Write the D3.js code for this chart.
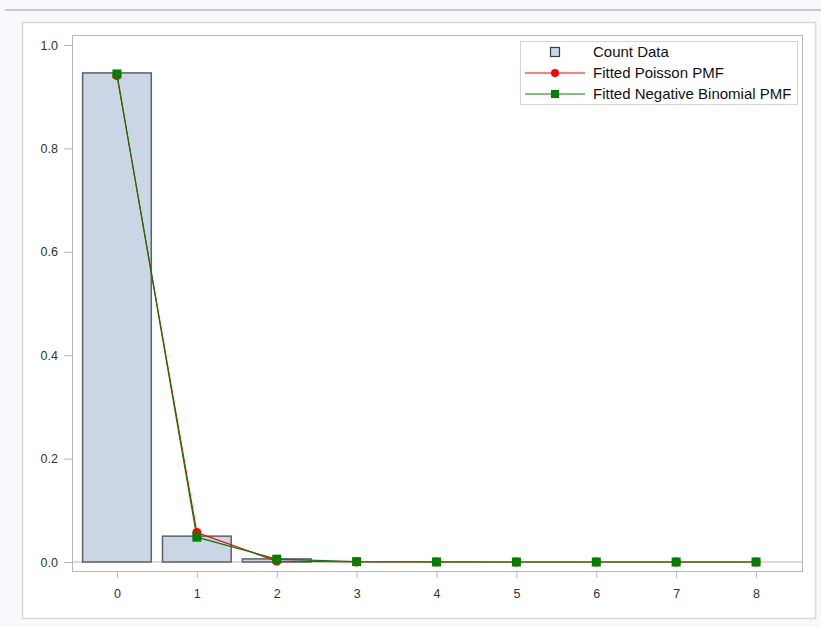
<!DOCTYPE html>
<html>
<head>
<meta charset="utf-8">
<script src="https://cdn.jsdelivr.net/npm/d3@7"></script>
<style>
  html, body { margin: 0; padding: 0; background: #f8f9fd; }
  svg { display: block; }
  text { font-family: "Liberation Sans", Arial, sans-serif; }
</style>
</head>
<body>
<svg id="chart" width="821" height="627"></svg>
<script>
// Observed counts (relative frequency) and two fitted probability mass functions
const counts = [0, 1, 2, 3, 4, 5, 6, 7, 8];
const countData = [0.946, 0.050, 0.006, 0, 0, 0, 0, 0, 0];
const poissonPMF = [0.941, 0.057, 0.0017, 0.0000, 0, 0, 0, 0, 0];
const negBinPMF = [0.944, 0.048, 0.0055, 0.0007, 0.0001, 0, 0, 0, 0];
const yTicks = [0.0, 0.2, 0.4, 0.6, 0.8, 1.0];
const legendLabels = ["Count Data", "Fitted Poisson PMF", "Fitted Negative Binomial PMF"];

const svg = d3.select("#chart");

// page chrome
svg.append("line").attr("x1", 5).attr("x2", 821).attr("y1", 10).attr("y2", 10)
  .attr("stroke", "#c7c9cd").attr("stroke-width", 2);
svg.append("rect").attr("x", 22.5).attr("y", 22.5).attr("width", 793).attr("height", 596)
  .attr("fill", "#ffffff").attr("stroke", "#d9d9d9").attr("stroke-width", 1.5);

const frame = { left: 72, top: 35, right: 803, bottom: 572 };

const x = d3.scaleLinear().domain([-0.5, 8.5]).range([77, 796]);
const y = d3.scaleLinear().domain([0, 1]).range([562, 45]);
const bw = (x(1) - x(0)) * 0.86;

// plot frame
svg.append("rect")
  .attr("x", frame.left + 0.5).attr("y", frame.top + 0.5)
  .attr("width", frame.right - frame.left - 1).attr("height", frame.bottom - frame.top - 1)
  .attr("fill", "#ffffff").attr("stroke", "#b4b8bc").attr("stroke-width", 1);

// baseline reference
svg.append("line").attr("x1", frame.left + 1).attr("x2", frame.right - 1)
  .attr("y1", y(0)).attr("y2", y(0)).attr("stroke", "#dcdcdc").attr("stroke-width", 2);

// y axis
const yAxis = d3.axisLeft(y).tickValues(yTicks).tickFormat(d3.format(".1f")).tickSize(8).tickPadding(6);
const gy = svg.append("g").attr("transform", `translate(${frame.left},0)`).call(yAxis);
gy.select(".domain").remove();
gy.selectAll(".tick line").attr("stroke", "#b4b8bc");
gy.selectAll(".tick text").attr("fill", "#333").style("font-size", "12.5px")
  .style("font-family", "'Liberation Sans', Arial, sans-serif");

// x axis
const xAxis = d3.axisBottom(x).tickValues(counts).tickFormat(d3.format("d")).tickSize(6).tickPadding(11);
const gx = svg.append("g").attr("transform", `translate(0,${frame.bottom})`).call(xAxis);
gx.select(".domain").remove();
gx.selectAll(".tick line").attr("stroke", "#b4b8bc");
gx.selectAll(".tick text").attr("fill", "#333").style("font-size", "12.5px")
  .style("font-family", "'Liberation Sans', Arial, sans-serif");

// bars
svg.append("g").selectAll("rect").data(counts).join("rect")
  .attr("x", d => x(d) - bw / 2)
  .attr("y", (d, i) => y(countData[i]))
  .attr("width", bw)
  .attr("height", (d, i) => y(0) - y(countData[i]))
  .attr("fill", "#cad5e5")
  .attr("stroke", "#5d6166")
  .attr("stroke-width", 1.5);

// fitted curves
const line = d3.line().x(d => x(d[0])).y(d => y(d[1]));
const poisPts = counts.map((c, i) => [c, poissonPMF[i]]);
const nbPts = counts.map((c, i) => [c, negBinPMF[i]]);

svg.append("path").datum(poisPts).attr("d", line)
  .attr("fill", "none").attr("stroke", "#ff0000").attr("stroke-width", 1.2);
svg.append("g").selectAll("circle").data(poisPts).join("circle")
  .attr("cx", d => x(d[0])).attr("cy", d => y(d[1])).attr("r", 4.5)
  .attr("fill", "#ff0000");

svg.append("path").datum(nbPts).attr("d", line)
  .attr("fill", "none").attr("stroke", "#008000").attr("stroke-width", 1.2);
const sq = 9;
svg.append("g").selectAll("rect").data(nbPts).join("rect")
  .attr("x", d => x(d[0]) - sq / 2).attr("y", d => y(d[1]) - sq / 2)
  .attr("width", sq).attr("height", sq)
  .attr("fill", "#008000");

// legend
const lg = svg.append("g");
lg.append("rect").attr("x", 520.5).attr("y", 41.5).attr("width", 277).attr("height", 63)
  .attr("fill", "#ffffff").attr("stroke", "#d4d4d4").attr("stroke-width", 1);
const rowY = [52, 73, 94];
const textX = 593;
const swX0 = 525, swX1 = 585, swC = 555;

lg.append("rect").attr("x", swC - 4.5).attr("y", rowY[0] - 4.5).attr("width", 9).attr("height", 9)
  .attr("fill", "#cad5e5").attr("stroke", "#3a3d40").attr("stroke-width", 1.2);

lg.append("line").attr("x1", swX0).attr("x2", swX1).attr("y1", rowY[1]).attr("y2", rowY[1])
  .attr("stroke", "#ff0000").attr("stroke-width", 1.2);
lg.append("circle").attr("cx", swC).attr("cy", rowY[1]).attr("r", 4).attr("fill", "#ff0000");

lg.append("line").attr("x1", swX0).attr("x2", swX1).attr("y1", rowY[2]).attr("y2", rowY[2])
  .attr("stroke", "#008000").attr("stroke-width", 1.2);
lg.append("rect").attr("x", swC - 4).attr("y", rowY[2] - 4).attr("width", 8).attr("height", 8)
  .attr("fill", "#008000");

lg.selectAll("text.lab").data(legendLabels).join("text")
  .attr("class", "lab")
  .attr("x", textX).attr("y", (d, i) => rowY[i])
  .attr("dy", "0.35em")
  .attr("fill", "#111")
  .style("font-size", "15px")
  .text(d => d);
</script>
</body>
</html>
